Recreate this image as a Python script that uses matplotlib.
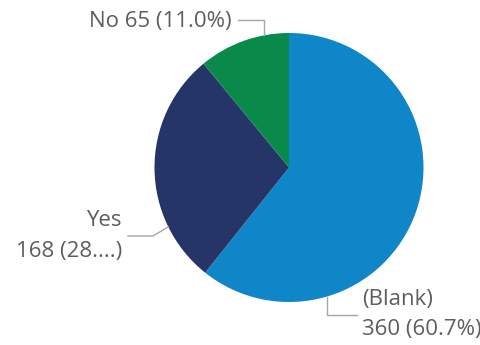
import matplotlib
matplotlib.use("Agg")
import matplotlib.pyplot as plt
import numpy as np

# Responses per answer
labels = ["(Blank)", "Yes", "No"]
counts = [360, 168, 65]
colors = ["#0f86c8", "#253568", "#0a8a4a"]

W, H = 481, 345
fig = plt.figure(figsize=(W / 100, H / 100), dpi=100)
ax = fig.add_axes([0, 0, 1, 1])

cx, cy, r = 289, H - 167.5, 134.5
ax.pie(counts, colors=colors, startangle=90, counterclock=False,
       center=(cx, cy), radius=r, wedgeprops=dict(linewidth=0))
ax.set_xlim(0, W)
ax.set_ylim(0, H)
ax.set_aspect("equal")
ax.axis("off")

total = sum(counts)
pcts = [c / total * 100 for c in counts]
text_kw = dict(color="#605e5c", fontsize=16, family=["Open Sans", "DejaVu Sans"])
line_kw = dict(color="#a6a6a6", lw=1)


def edge_point(theta):
    # angle measured clockwise from 12 o'clock
    t = np.radians(theta)
    return cx + r * np.sin(t), cy + r * np.cos(t)


# No: label above the pie, leader drops onto the green slice
px, py = edge_point(349.4)
ax.plot([238, px, px], [H - 20, H - 20, py], **line_kw)
ax.text(232, H - 22, f"{labels[2]} {counts[2]} ({pcts[2]:.1f}%)",
        ha="right", va="center", **text_kw)

# Yes: two-line label on the left, percentage cut short
px, py = edge_point(243.8)
ax.plot([128, 153, px], [H - 236, H - 236, py], **line_kw)
ax.text(122, H - 221, labels[1], ha="right", va="center", **text_kw)
ax.text(122, H - 251, f"{counts[1]} ({pcts[1]:.1f}"[:7] + "....)",
        ha="right", va="center", **text_kw)

# (Blank): two-line label below right
px, py = edge_point(163.8)
ax.plot([px, px, 357], [py, H - 315, H - 315], **line_kw)
ax.text(362, H - 299, labels[0], ha="left", va="center", **text_kw)
ax.text(362, H - 330, f"{counts[0]} ({pcts[0]:.1f}%)",
        ha="left", va="center", **text_kw)

fig.savefig("out.png", dpi=100)
